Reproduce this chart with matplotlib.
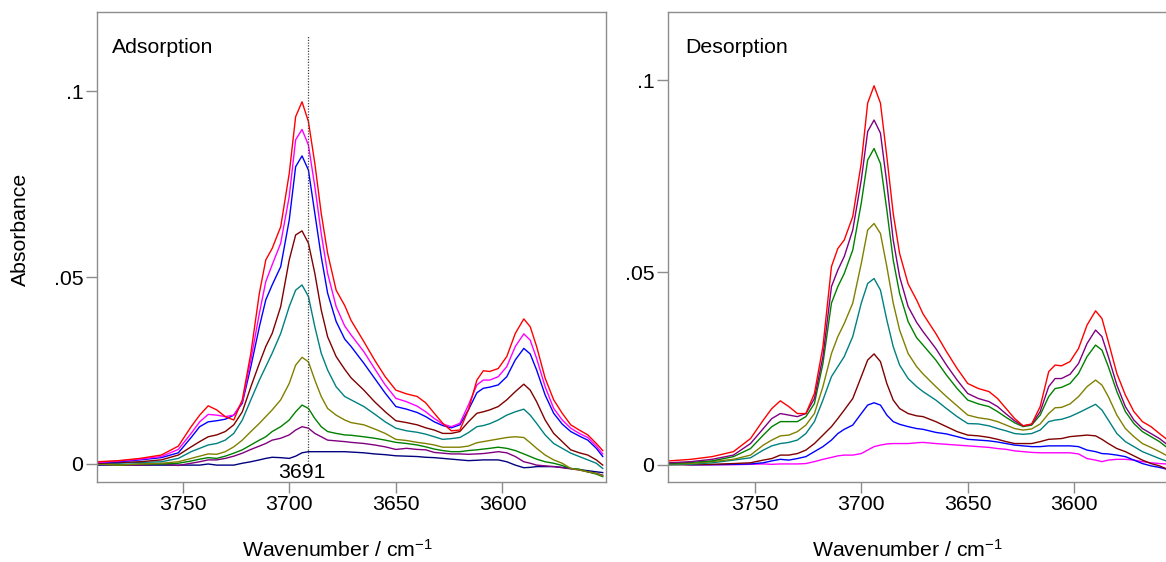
import matplotlib
matplotlib.use("Agg")
import matplotlib.pyplot as plt
from matplotlib.ticker import FixedLocator, FuncFormatter

plt.rcParams['font.family'] = ['Liberation Sans', 'DejaVu Sans']
plt.rcParams['mathtext.fontset'] = 'custom'
plt.rcParams['mathtext.rm'] = 'Liberation Sans'
plt.rcParams['mathtext.it'] = 'Liberation Sans'

# ---- Adsorption spectra (absorbance vs wavenumber / cm-1) ----
wn_ads = [3790, 3780, 3770, 3760, 3752, 3746, 3742, 3738, 3734, 3730, 3726, 3722,
          3718, 3714, 3711, 3708, 3704, 3700, 3697, 3694, 3691, 3688, 3685, 3682,
          3678, 3674, 3671, 3665, 3660, 3655, 3650, 3645, 3640, 3636, 3632, 3628,
          3624, 3620, 3616, 3612, 3609, 3606, 3602, 3598, 3594, 3590, 3587, 3584,
          3580, 3576, 3572, 3568, 3564, 3560, 3556, 3553]

ads_red = [0.0006, 0.0009, 0.0015, 0.0024, 0.0048, 0.0100, 0.0131, 0.0156, 0.0145, 0.0127, 0.0118, 0.0172,
           0.0297, 0.0458, 0.0547, 0.0578, 0.0636, 0.0779, 0.0931, 0.0971, 0.0918, 0.0806, 0.0672, 0.0565,
           0.0466, 0.0425, 0.0385, 0.0328, 0.0279, 0.0234, 0.0198, 0.0188, 0.0181, 0.0164, 0.0136, 0.0109,
           0.0089, 0.0091, 0.0145, 0.0225, 0.0250, 0.0248, 0.0256, 0.0288, 0.0350, 0.0389, 0.0368, 0.0315,
           0.0230, 0.0172, 0.0136, 0.0105, 0.0091, 0.0078, 0.0055, 0.0036]
ads_magenta = [0.0004, 0.0008, 0.0013, 0.0020, 0.0039, 0.0082, 0.0113, 0.0133, 0.0131, 0.0127, 0.0131, 0.0167,
               0.0279, 0.0404, 0.0489, 0.0534, 0.0592, 0.0717, 0.0869, 0.0897, 0.0855, 0.0744, 0.0618, 0.0511,
               0.0422, 0.0370, 0.0346, 0.0301, 0.0256, 0.0212, 0.0176, 0.0167, 0.0155, 0.0140, 0.0122, 0.0107,
               0.0100, 0.0109, 0.0158, 0.0212, 0.0225, 0.0225, 0.0234, 0.0261, 0.0315, 0.0349, 0.0332, 0.0283,
               0.0207, 0.0149, 0.0118, 0.0096, 0.0082, 0.0071, 0.0048, 0.0027]
ads_blue = [0.0004, 0.0006, 0.0011, 0.0017, 0.0030, 0.0071, 0.0100, 0.0113, 0.0116, 0.0120, 0.0131, 0.0163,
            0.0261, 0.0368, 0.0440, 0.0480, 0.0529, 0.0654, 0.0797, 0.0826, 0.0788, 0.0672, 0.0556, 0.0458,
            0.0382, 0.0335, 0.0315, 0.0270, 0.0230, 0.0190, 0.0154, 0.0147, 0.0138, 0.0127, 0.0113, 0.0103,
            0.0097, 0.0105, 0.0145, 0.0191, 0.0203, 0.0206, 0.0212, 0.0234, 0.0279, 0.0310, 0.0295, 0.0252,
            0.0185, 0.0136, 0.0107, 0.0087, 0.0075, 0.0064, 0.0042, 0.0020]
ads_maroon = [0.0002, 0.0004, 0.0006, 0.0011, 0.0024, 0.0046, 0.0060, 0.0073, 0.0078, 0.0087, 0.0105, 0.0140,
              0.0207, 0.0270, 0.0315, 0.0350, 0.0422, 0.0547, 0.0614, 0.0625, 0.0592, 0.0511, 0.0413, 0.0341,
              0.0288, 0.0254, 0.0231, 0.0198, 0.0167, 0.0140, 0.0116, 0.0111, 0.0105, 0.0097, 0.0091, 0.0082,
              0.0082, 0.0087, 0.0113, 0.0136, 0.0140, 0.0145, 0.0154, 0.0172, 0.0194, 0.0214, 0.0198, 0.0167,
              0.0118, 0.0082, 0.0060, 0.0038, 0.0030, 0.0024, 0.0011, -0.0003]
ads_teal = [0.0002, 0.0002, 0.0004, 0.0006, 0.0015, 0.0033, 0.0042, 0.0051, 0.0055, 0.0064, 0.0082, 0.0118,
            0.0172, 0.0225, 0.0261, 0.0297, 0.0350, 0.0422, 0.0466, 0.0480, 0.0449, 0.0368, 0.0297, 0.0252,
            0.0207, 0.0181, 0.0172, 0.0154, 0.0134, 0.0113, 0.0096, 0.0089, 0.0085, 0.0080, 0.0073, 0.0066,
            0.0068, 0.0071, 0.0084, 0.0100, 0.0103, 0.0108, 0.0118, 0.0131, 0.0140, 0.0147, 0.0131, 0.0109,
            0.0078, 0.0055, 0.0042, 0.0029, 0.0020, 0.0011, 0.0002, -0.0012]
ads_olive = [0.0000, -0.0003, 0.0000, 0.0002, 0.0006, 0.0015, 0.0021, 0.0027, 0.0026, 0.0033, 0.0046, 0.0064,
             0.0087, 0.0109, 0.0127, 0.0145, 0.0172, 0.0216, 0.0265, 0.0286, 0.0274, 0.0225, 0.0181, 0.0149,
             0.0131, 0.0118, 0.0111, 0.0105, 0.0094, 0.0082, 0.0066, 0.0063, 0.0058, 0.0055, 0.0051, 0.0045,
             0.0045, 0.0045, 0.0048, 0.0057, 0.0060, 0.0063, 0.0067, 0.0071, 0.0073, 0.0071, 0.0057, 0.0042,
             0.0024, 0.0011, 0.0002, -0.0012, -0.0016, -0.0021, -0.0025, -0.0032]
ads_green = [0.0000, -0.0003, 0.0000, 0.0000, 0.0002, 0.0008, 0.0013, 0.0017, 0.0015, 0.0021, 0.0029, 0.0038,
             0.0051, 0.0064, 0.0073, 0.0087, 0.0100, 0.0118, 0.0140, 0.0158, 0.0149, 0.0122, 0.0100, 0.0087,
             0.0082, 0.0078, 0.0077, 0.0073, 0.0069, 0.0064, 0.0058, 0.0055, 0.0051, 0.0046, 0.0040, 0.0036,
             0.0033, 0.0033, 0.0036, 0.0038, 0.0040, 0.0042, 0.0045, 0.0042, 0.0036, 0.0027, 0.0020, 0.0013,
             0.0006, 0.0002, -0.0004, -0.0012, -0.0014, -0.0021, -0.0027, -0.0034]
ads_purple = [0.0000, -0.0003, -0.0003, 0.0000, -0.0004, 0.0002, 0.0006, 0.0011, 0.0011, 0.0015, 0.0021, 0.0029,
              0.0039, 0.0048, 0.0055, 0.0064, 0.0069, 0.0078, 0.0091, 0.0100, 0.0096, 0.0082, 0.0073, 0.0064,
              0.0062, 0.0060, 0.0058, 0.0055, 0.0051, 0.0046, 0.0039, 0.0042, 0.0039, 0.0038, 0.0031, 0.0029,
              0.0027, 0.0027, 0.0026, 0.0027, 0.0028, 0.0030, 0.0033, 0.0030, 0.0020, 0.0006, 0.0002, -0.0003,
              -0.0005, -0.0007, -0.0010, -0.0013, -0.0016, -0.0021, -0.0025, -0.0030]
ads_navy = [-0.0003, -0.0003, -0.0003, -0.0003, -0.0003, -0.0003, -0.0003, 0.0000, -0.0003, -0.0003, -0.0003, 0.0002,
            0.0006, 0.0011, 0.0015, 0.0018, 0.0017, 0.0015, 0.0021, 0.0030, 0.0033, 0.0033, 0.0033, 0.0033,
            0.0033, 0.0033, 0.0032, 0.0030, 0.0027, 0.0025, 0.0022, 0.0021, 0.0020, 0.0018, 0.0017, 0.0015,
            0.0013, 0.0011, 0.0009, 0.0010, 0.0011, 0.0011, 0.0011, 0.0006, -0.0003, -0.0010, -0.0009, -0.0007,
            -0.0007, -0.0007, -0.0009, -0.0012, -0.0015, -0.0018, -0.0021, -0.0023]

# ---- Desorption spectra ----
wn_des = [3790, 3780, 3770, 3760, 3752, 3746, 3742, 3738, 3734, 3730, 3726, 3722,
          3718, 3714, 3711, 3708, 3704, 3700, 3697, 3694, 3691, 3688, 3685, 3682,
          3678, 3674, 3671, 3665, 3660, 3655, 3650, 3645, 3640, 3636, 3632, 3628,
          3624, 3620, 3616, 3612, 3609, 3606, 3602, 3598, 3594, 3590, 3587, 3584,
          3580, 3576, 3572, 3568, 3564, 3560, 3557]

des_red = [0.0010, 0.0014, 0.0021, 0.0034, 0.0068, 0.0116, 0.0146, 0.0166, 0.0151, 0.0133, 0.0133, 0.0185,
           0.0307, 0.0515, 0.0562, 0.0584, 0.0645, 0.0784, 0.0940, 0.0985, 0.0940, 0.0801, 0.0653, 0.0549,
           0.0470, 0.0428, 0.0392, 0.0341, 0.0294, 0.0250, 0.0211, 0.0198, 0.0190, 0.0172, 0.0146, 0.0120,
           0.0101, 0.0106, 0.0151, 0.0242, 0.0259, 0.0257, 0.0268, 0.0302, 0.0363, 0.0400, 0.0380, 0.0320,
           0.0237, 0.0181, 0.0138, 0.0112, 0.0099, 0.0081, 0.0068]
des_purple = [0.0005, 0.0008, 0.0014, 0.0025, 0.0055, 0.0094, 0.0120, 0.0133, 0.0129, 0.0125, 0.0133, 0.0172,
              0.0281, 0.0463, 0.0506, 0.0541, 0.0610, 0.0740, 0.0866, 0.0896, 0.0862, 0.0732, 0.0584, 0.0489,
              0.0411, 0.0370, 0.0346, 0.0302, 0.0259, 0.0220, 0.0185, 0.0172, 0.0164, 0.0151, 0.0132, 0.0114,
              0.0101, 0.0105, 0.0138, 0.0203, 0.0224, 0.0224, 0.0235, 0.0263, 0.0315, 0.0350, 0.0333, 0.0281,
              0.0207, 0.0151, 0.0116, 0.0094, 0.0081, 0.0068, 0.0055]
des_green = [0.0003, 0.0006, 0.0010, 0.0021, 0.0042, 0.0077, 0.0099, 0.0112, 0.0112, 0.0112, 0.0125, 0.0159,
             0.0263, 0.0420, 0.0463, 0.0497, 0.0558, 0.0680, 0.0792, 0.0822, 0.0783, 0.0662, 0.0532, 0.0445,
             0.0372, 0.0330, 0.0311, 0.0272, 0.0233, 0.0198, 0.0168, 0.0158, 0.0151, 0.0138, 0.0123, 0.0109,
             0.0099, 0.0103, 0.0129, 0.0177, 0.0198, 0.0201, 0.0211, 0.0237, 0.0281, 0.0311, 0.0298, 0.0255,
             0.0190, 0.0138, 0.0107, 0.0086, 0.0073, 0.0060, 0.0047]
des_olive = [0.0002, 0.0003, 0.0008, 0.0014, 0.0025, 0.0051, 0.0064, 0.0075, 0.0077, 0.0086, 0.0103, 0.0133,
             0.0203, 0.0289, 0.0333, 0.0367, 0.0420, 0.0523, 0.0610, 0.0627, 0.0601, 0.0515, 0.0420, 0.0350,
             0.0289, 0.0255, 0.0236, 0.0203, 0.0177, 0.0153, 0.0129, 0.0122, 0.0118, 0.0112, 0.0103, 0.0094,
             0.0090, 0.0093, 0.0106, 0.0133, 0.0148, 0.0149, 0.0158, 0.0177, 0.0203, 0.0220, 0.0207, 0.0177,
             0.0129, 0.0094, 0.0073, 0.0055, 0.0045, 0.0034, 0.0025]
des_teal = [0.0000, 0.0001, 0.0005, 0.0012, 0.0018, 0.0038, 0.0049, 0.0055, 0.0058, 0.0064, 0.0081, 0.0112,
            0.0168, 0.0229, 0.0255, 0.0281, 0.0333, 0.0420, 0.0471, 0.0484, 0.0454, 0.0376, 0.0307, 0.0259,
            0.0224, 0.0203, 0.0190, 0.0168, 0.0146, 0.0125, 0.0107, 0.0106, 0.0101, 0.0094, 0.0088, 0.0081,
            0.0079, 0.0081, 0.0090, 0.0112, 0.0116, 0.0118, 0.0125, 0.0135, 0.0146, 0.0157, 0.0142, 0.0116,
            0.0081, 0.0060, 0.0047, 0.0034, 0.0025, 0.0016, 0.0010]
des_maroon = [0.0000, 0.0000, 0.0001, 0.0003, 0.0005, 0.0012, 0.0016, 0.0025, 0.0025, 0.0029, 0.0038, 0.0055,
              0.0077, 0.0099, 0.0120, 0.0142, 0.0172, 0.0229, 0.0272, 0.0288, 0.0268, 0.0211, 0.0168, 0.0146,
              0.0133, 0.0127, 0.0125, 0.0112, 0.0099, 0.0086, 0.0077, 0.0075, 0.0071, 0.0066, 0.0060, 0.0055,
              0.0055, 0.0055, 0.0060, 0.0066, 0.0067, 0.0068, 0.0073, 0.0075, 0.0077, 0.0075, 0.0066, 0.0055,
              0.0042, 0.0034, 0.0023, 0.0012, 0.0003, -0.0003, -0.0010]
des_blue = [0.0003, 0.0000, 0.0000, 0.0001, 0.0002, 0.0005, 0.0010, 0.0014, 0.0012, 0.0016, 0.0021, 0.0034,
            0.0047, 0.0064, 0.0081, 0.0092, 0.0103, 0.0133, 0.0155, 0.0161, 0.0155, 0.0129, 0.0112, 0.0105,
            0.0099, 0.0094, 0.0092, 0.0084, 0.0080, 0.0073, 0.0066, 0.0064, 0.0062, 0.0059, 0.0055, 0.0051,
            0.0049, 0.0047, 0.0047, 0.0049, 0.0049, 0.0049, 0.0049, 0.0047, 0.0038, 0.0034, 0.0029, 0.0028,
            0.0025, 0.0021, 0.0012, 0.0003, -0.0003, -0.0007, -0.0011]
des_magenta = [0.0002, 0.0000, 0.0000, 0.0000, 0.0001, 0.0002, 0.0001, 0.0002, 0.0002, 0.0002, 0.0003, 0.0008,
               0.0014, 0.0019, 0.0023, 0.0025, 0.0025, 0.0029, 0.0038, 0.0047, 0.0051, 0.0054, 0.0055, 0.0055,
               0.0055, 0.0057, 0.0058, 0.0055, 0.0053, 0.0051, 0.0049, 0.0047, 0.0045, 0.0042, 0.0040, 0.0036,
               0.0034, 0.0032, 0.0031, 0.0031, 0.0031, 0.0031, 0.0031, 0.0028, 0.0016, 0.0012, 0.0008, 0.0012,
               0.0014, 0.0014, 0.0012, 0.0008, 0.0005, 0.0003, 0.0002]

ads_series = [(ads_navy, '#000080'), (ads_purple, '#800080'), (ads_green, '#008000'),
              (ads_olive, '#808000'), (ads_teal, '#008080'), (ads_maroon, '#800000'),
              (ads_blue, '#0000ff'), (ads_magenta, '#ff00ff'), (ads_red, '#ff0000')]
des_series = [(des_magenta, '#ff00ff'), (des_blue, '#0000ff'), (des_maroon, '#800000'),
              (des_teal, '#008080'), (des_olive, '#808000'), (des_green, '#008000'),
              (des_purple, '#800080'), (des_red, '#ff0000')]

peak_wn = 3691
yticks = [0.0, 0.05, 0.1]
ytick_labels = ['0', '.05', '.1']
xticks = [3750, 3700, 3650, 3600]

W, H = 1166, 562
fig = plt.figure(figsize=(W / 100, H / 100), dpi=100)

frame_col = '#8c8c8c'
fs = 15.3


def style(ax, ylim, xlim):
    ax.set_xlim(*xlim)
    ax.set_ylim(*ylim)
    for s in ax.spines.values():
        s.set_color(frame_col)
        s.set_linewidth(1.0)
    ax.xaxis.set_major_locator(FixedLocator(xticks))
    ax.yaxis.set_major_locator(FixedLocator(yticks))
    ax.yaxis.set_major_formatter(FuncFormatter(lambda v, p: ytick_labels[yticks.index(round(v, 3))]
                                               if round(v, 3) in yticks else ''))
    ax.tick_params(axis='both', which='major', direction='out', length=8, width=1.0,
                   color=frame_col, labelsize=fs, pad=2)
    ax.tick_params(top=False, right=False)


# left panel: adsorption
axL = fig.add_axes([97.3 / W, 1 - 481.6 / H, 508.2 / W, 469.3 / H])
for vals, col in ads_series:
    axL.plot(wn_ads, vals, color=col, lw=1.0, solid_joinstyle='round')
style(axL, (-0.00472, 0.1211), (3790, 3551.7))
axL.plot([peak_wn, peak_wn], [0.0, 0.115], ls=(0, (1, 1.2)), color='#444444', lw=0.9)
axL.annotate(str(peak_wn), xy=(peak_wn, -0.0022), xytext=(-5, 0), textcoords='offset points',
             ha='center', va='center', fontsize=fs)
axL.text(0.029, 0.925, 'Adsorption', transform=axL.transAxes, fontsize=fs, ha='left', va='center')

# right panel: desorption (wider than the canvas, clipped at the right edge)
axR = fig.add_axes([668.3 / W, 1 - 481.6 / H, 508.2 / W, 469.3 / H])
for vals, col in des_series:
    axR.plot(wn_des, vals, color=col, lw=1.0, solid_joinstyle='round')
style(axR, (-0.00439, 0.1176), (3790.6, 3552.0))
axR.text(0.033, 0.925, 'Desorption', transform=axR.transAxes, fontsize=fs, ha='left', va='center')

xlab = r'Wavenumber / cm$^{\mathregular{-1}}$'
fig.text(337 / W, 1 - 550 / H, xlab, fontsize=fs, ha='center', va='center')
fig.text(907 / W, 1 - 550 / H, xlab, fontsize=fs, ha='center', va='center')
fig.text(20 / W, 1 - 229 / H, 'Absorbance', fontsize=fs, rotation=90, ha='center', va='center')

fig.savefig('out.png', dpi=100)
